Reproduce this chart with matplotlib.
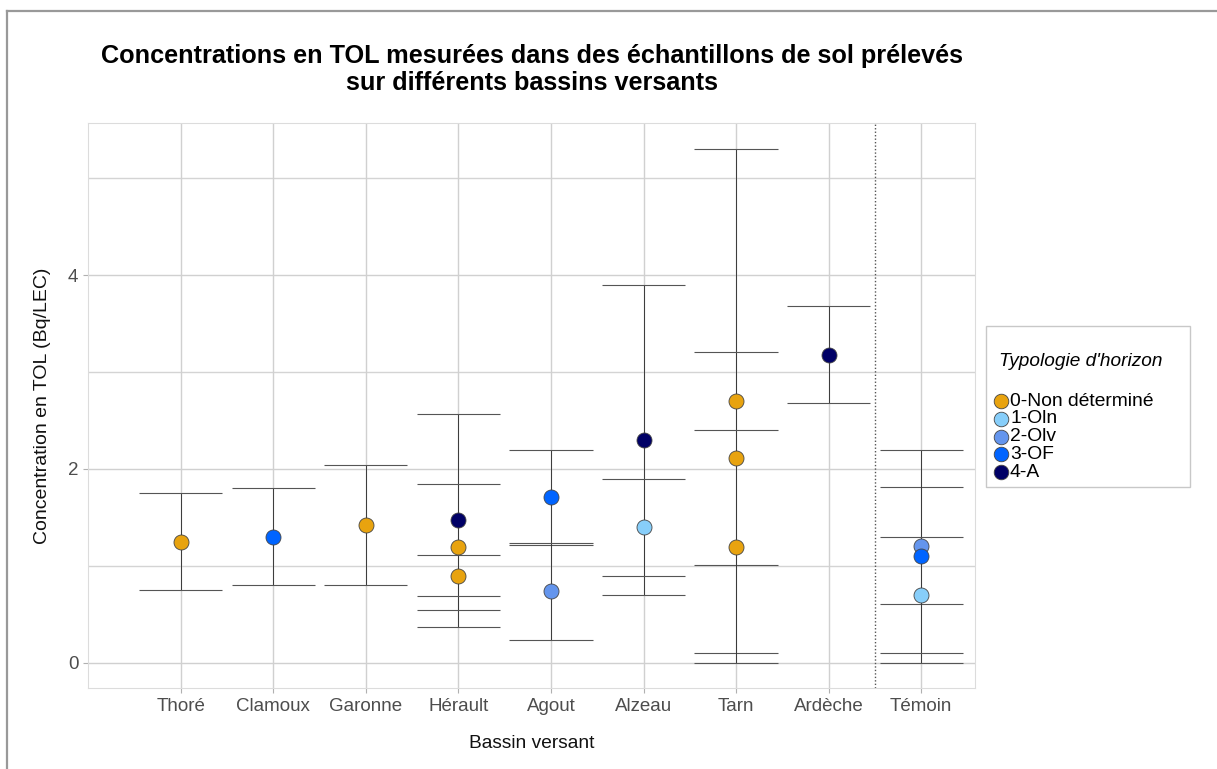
import matplotlib
matplotlib.use("Agg")
import matplotlib.pyplot as plt
from matplotlib.lines import Line2D
from matplotlib.patches import Rectangle

plt.rcParams['font.family'] = ['Liberation Sans', 'DejaVu Sans']

# ---- data ----
categories = ["Thoré", "Clamoux", "Garonne", "Hérault", "Agout",
              "Alzeau", "Tarn", "Ardèche", "Témoin"]
types = ["0-Non déterminé", "1-Oln", "2-Olv", "3-OF", "4-A"]
type_colors = ["#E8A30F", "#87CEFA", "#6495ED", "#0064FF", "#000066"]

point_site = ["Thoré", "Clamoux", "Garonne",
              "Hérault", "Hérault", "Hérault",
              "Agout", "Agout",
              "Alzeau", "Alzeau",
              "Tarn", "Tarn", "Tarn",
              "Ardèche",
              "Témoin", "Témoin", "Témoin"]
point_value = [1.25, 1.30, 1.42,
               1.47, 1.19, 0.90,
               1.71, 0.74,
               2.30, 1.40,
               2.70, 2.11, 1.20,
               3.18,
               1.21, 1.10, 0.70]
point_err = [0.50, 0.50, 0.62,
             1.10, 0.65, 0.21,
             0.49, 0.50,
             1.60, 0.50,
             2.60, 1.10, 1.20,
             0.50,
             0.60, 1.10, 0.60]
point_type = [0, 3, 0,
              4, 0, 0,
              3, 2,
              4, 1,
              0, 0, 0,
              4,
              2, 3, 1]

W, H = 1217, 769
fig = plt.figure(figsize=(W / 100, H / 100), dpi=100)
ax = fig.add_axes([88 / W, 1 - 688 / H, (975 - 88) / W, (688 - 123) / H])

xpos = {c: i + 1 for i, c in enumerate(categories)}

# grid
ax.set_axisbelow(True)
for y in [1, 3, 5]:
    ax.axhline(y, color="#d4d4d4", lw=1.0, zorder=0)
ax.grid(True, color="#d0d0d0", lw=1.0)

# error bars
cap_half = 0.45
for s, v, e in zip(point_site, point_value, point_err):
    x = xpos[s]
    ax.vlines(x, v - e, v + e, color="#3a3a3a", lw=0.7, zorder=2)
    ax.hlines([v - e, v + e], x - cap_half, x + cap_half, color="#555555", lw=0.8, zorder=2)

# points
for s, v, t in zip(point_site, point_value, point_type):
    ax.plot(xpos[s], v, 'o', ms=10.8, mfc=type_colors[t], mec="#444444",
            mew=0.6, zorder=3)

# dotted separator
ax.axvline(8.5, color="#555555", lw=1.0, ls=(0, (1, 1.5)), zorder=2)

ax.set_xlim(0, 9.58)
ax.set_ylim(-0.26, 5.57)
ax.set_yticks([0, 2, 4])
ax.set_xticks(range(1, len(categories) + 1))
ax.set_xticklabels(categories)
ax.tick_params(axis='both', colors="#b0b0b0", labelcolor="#4d4d4d",
               labelsize=13.5, length=3.5, width=0.8)
ax.tick_params(axis='x', pad=4)
for sp in ax.spines.values():
    sp.set_color("#dcdcdc")
    sp.set_linewidth(0.8)

ax.set_xlabel("Bassin versant", fontsize=13.8, labelpad=14, color="#111111")
ax.set_ylabel("Concentration en TOL (Bq/LEC)", fontsize=14, labelpad=12, color="#111111")

fig.text(532 / W, 1 - 69.5 / H,
         "Concentrations en TOL mesurées dans des échantillons de sol prélevés\nsur différents bassins versants",
         ha='center', va='center', fontsize=18.2, fontweight='bold', linespacing=1.16)

# legend (drawn manually)
fig.add_artist(Rectangle((986 / W, 1 - 487 / H), (1190 - 986) / W, (487 - 326) / H,
                         transform=fig.transFigure, fill=False, ec="#c8c8c8", lw=1.0))
fig.text(999 / W, 1 - 361 / H, "Typologie d'horizon", style='italic',
         fontsize=13.7, va='center', ha='left')
for i, (lab, col) in enumerate(zip(types, type_colors)):
    yy = 1 - (401 + i * 17.8) / H
    fig.add_artist(Line2D([1001 / W], [yy], marker='o', ms=10.5, mfc=col,
                          mec="#444444", mew=0.6, transform=fig.transFigure))
    fig.text(1010 / W, yy, lab, fontsize=13.9, va='center', ha='left')

# outer border (top and left)
fig.add_artist(Line2D([7 / W, 1], [1 - 11 / H, 1 - 11 / H], color="#999999", lw=1.6,
                      transform=fig.transFigure))
fig.add_artist(Line2D([7 / W, 7 / W], [0, 1 - 11 / H], color="#999999", lw=1.6,
                      transform=fig.transFigure))

fig.savefig("out.png", dpi=100)
